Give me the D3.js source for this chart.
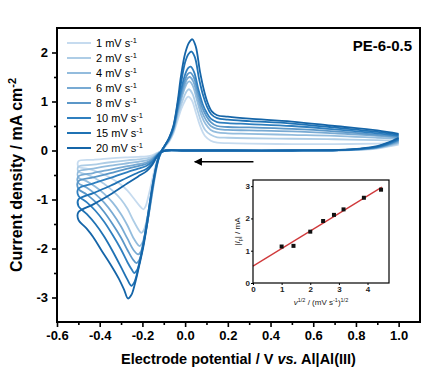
<!DOCTYPE html>
<html><head><meta charset="utf-8">
<script src="https://cdn.jsdelivr.net/npm/d3@7"></script>
<style>html,body{margin:0;padding:0;background:#fff;}svg{display:block;font-family:"Liberation Sans",Arial,sans-serif;}</style>
</head><body><svg id="c" width="439" height="374"></svg>
<script>
// ---------- data ----------
const scanRates = [1, 2, 4, 6, 8, 10, 15, 20];
const legendLabels = ["1 mV s", "2 mV s", "4 mV s", "6 mV s", "8 mV s", "10 mV s", "15 mV s", "20 mV s"];
const seriesColors = ["#c6dbef", "#aecde6", "#93bcdd", "#78aad3", "#5b97c8", "#2f7fbf", "#1f72b4", "#1565a8"];
const xTicks = [-0.6, -0.4, -0.2, 0.0, 0.2, 0.4, 0.6, 0.8, 1.0];
const yTicks = [-3, -2, -1, 0, 1, 2];
const sampleLabel = "PE-6-0.5";
const arrowSpan = [0.32, 0.045, -0.23]; // V start, V end, current

// cyclic voltammograms [potential V, current density mA cm^-2]
const cv1 = [[1.0,0.12],[0.95,0.08],[0.9,0.04],[0.82,0.015],[0.72,0.005],[0.5,0],[0.2,0],[0,0],[-0.09,0],[-0.115,-0.02],[-0.135,-0.06],[-0.155,-0.1],[-0.18,-0.12],[-0.22,-0.13],[-0.27,-0.14],[-0.35,-0.16],[-0.43,-0.19],[-0.5,-0.22],
 [-0.5,-0.33],[-0.46,-0.37],[-0.42,-0.42],[-0.38,-0.49],[-0.34,-0.58],[-0.3,-0.7],[-0.27,-0.82],[-0.24,-0.98],[-0.215,-1.12],[-0.195,-1.2],[-0.184,-1.13],[-0.174,-0.97],[-0.163,-0.77],[-0.152,-0.55],[-0.14,-0.33],[-0.127,-0.13],[-0.112,-0.01],[-0.095,0.07],[-0.075,0.18],[-0.055,0.35],[-0.035,0.62],[-0.018,0.85],[0.0,1.02],[0.008,1.08],[0.016,1.1],[0.032,1.02],[0.052,0.75],[0.072,0.48],[0.092,0.3],[0.12,0.2],[0.15,0.16],[0.2,0.15],[0.3,0.14],[0.5,0.13],[0.7,0.13],[0.9,0.14],[1.0,0.15]];
const cv2 = [[1.0,0.14],[0.95,0.09],[0.9,0.05],[0.82,0.02],[0.72,0.005],[0.5,0],[0.2,0],[0,0],[-0.09,0],[-0.115,-0.02],[-0.135,-0.07],[-0.155,-0.13],[-0.18,-0.16],[-0.22,-0.18],[-0.27,-0.2],[-0.35,-0.24],[-0.43,-0.29],[-0.5,-0.33],
 [-0.5,-0.43],[-0.46,-0.49],[-0.42,-0.57],[-0.38,-0.68],[-0.34,-0.82],[-0.3,-1.0],[-0.27,-1.19],[-0.24,-1.45],[-0.205,-1.68],[-0.193,-1.62],[-0.182,-1.46],[-0.171,-1.23],[-0.16,-0.97],[-0.148,-0.67],[-0.135,-0.38],[-0.121,-0.13],[-0.107,-0.01],[-0.095,0.08],[-0.075,0.2],[-0.055,0.38],[-0.035,0.7],[-0.018,0.94],[0.0,1.15],[0.009,1.22],[0.018,1.25],[0.034,1.16],[0.054,0.88],[0.074,0.6],[0.094,0.42],[0.12,0.32],[0.15,0.27],[0.2,0.26],[0.3,0.25],[0.5,0.24],[0.7,0.23],[0.9,0.21],[1.0,0.2]];
const cv4 = [[1.0,0.16],[0.95,0.1],[0.9,0.055],[0.82,0.02],[0.72,0.005],[0.5,0],[0.2,0],[0,0],[-0.09,0],[-0.115,-0.025],[-0.135,-0.09],[-0.155,-0.16],[-0.18,-0.2],[-0.22,-0.23],[-0.27,-0.26],[-0.35,-0.31],[-0.43,-0.37],[-0.5,-0.43],
 [-0.5,-0.55],[-0.46,-0.63],[-0.42,-0.74],[-0.38,-0.88],[-0.34,-1.06],[-0.3,-1.3],[-0.27,-1.53],[-0.24,-1.8],[-0.213,-1.95],[-0.2,-1.88],[-0.188,-1.7],[-0.176,-1.45],[-0.164,-1.15],[-0.151,-0.8],[-0.138,-0.46],[-0.123,-0.16],[-0.109,-0.02],[-0.095,0.09],[-0.075,0.21],[-0.055,0.4],[-0.035,0.76],[-0.018,1.04],[0.0,1.29],[0.01,1.38],[0.02,1.41],[0.036,1.32],[0.056,1.02],[0.076,0.72],[0.096,0.54],[0.12,0.42],[0.15,0.37],[0.2,0.35],[0.3,0.34],[0.5,0.32],[0.7,0.3],[0.9,0.26],[1.0,0.24]];
const cv6 = [[1.0,0.18],[0.95,0.11],[0.9,0.06],[0.82,0.025],[0.72,0.01],[0.5,0],[0.2,0],[0,0],[-0.09,0],[-0.115,-0.03],[-0.135,-0.1],[-0.155,-0.18],[-0.18,-0.24],[-0.22,-0.28],[-0.27,-0.32],[-0.35,-0.39],[-0.43,-0.46],[-0.5,-0.53],
 [-0.5,-0.66],[-0.46,-0.76],[-0.42,-0.89],[-0.38,-1.06],[-0.34,-1.28],[-0.3,-1.55],[-0.27,-1.8],[-0.24,-2.04],[-0.22,-2.12],[-0.207,-2.06],[-0.195,-1.88],[-0.182,-1.6],[-0.169,-1.27],[-0.156,-0.9],[-0.142,-0.52],[-0.126,-0.18],[-0.111,-0.02],[-0.095,0.1],[-0.075,0.22],[-0.055,0.42],[-0.035,0.8],[-0.018,1.1],[0.0,1.37],[0.011,1.47],[0.022,1.5],[0.038,1.41],[0.058,1.1],[0.078,0.8],[0.098,0.62],[0.12,0.5],[0.15,0.44],[0.2,0.42],[0.3,0.41],[0.5,0.39],[0.7,0.35],[0.9,0.3],[1.0,0.26]];
const cv8 = [[1.0,0.2],[0.95,0.12],[0.9,0.065],[0.82,0.03],[0.72,0.01],[0.5,0],[0.2,0],[0,0],[-0.09,0],[-0.115,-0.03],[-0.135,-0.11],[-0.155,-0.2],[-0.18,-0.27],[-0.22,-0.32],[-0.27,-0.37],[-0.35,-0.46],[-0.43,-0.55],[-0.5,-0.63],
 [-0.5,-0.78],[-0.46,-0.9],[-0.42,-1.05],[-0.38,-1.25],[-0.34,-1.5],[-0.3,-1.78],[-0.27,-2.03],[-0.245,-2.22],[-0.228,-2.3],[-0.215,-2.24],[-0.202,-2.05],[-0.188,-1.75],[-0.174,-1.38],[-0.16,-0.98],[-0.145,-0.57],[-0.128,-0.2],[-0.112,-0.03],[-0.095,0.1],[-0.075,0.23],[-0.055,0.44],[-0.035,0.84],[-0.018,1.17],[0.0,1.45],[0.012,1.56],[0.024,1.59],[0.04,1.5],[0.06,1.18],[0.08,0.88],[0.1,0.7],[0.12,0.58],[0.15,0.5],[0.2,0.48],[0.3,0.47],[0.5,0.44],[0.7,0.39],[0.9,0.32],[1.0,0.28]];
const cv10 = [[1.0,0.22],[0.95,0.13],[0.9,0.07],[0.82,0.03],[0.72,0.01],[0.5,0],[0.2,0],[0,0],[-0.09,0],[-0.115,-0.035],[-0.135,-0.12],[-0.155,-0.23],[-0.18,-0.31],[-0.22,-0.37],[-0.27,-0.44],[-0.35,-0.56],[-0.43,-0.67],[-0.5,-0.78],
 [-0.5,-0.92],[-0.46,-1.06],[-0.42,-1.23],[-0.38,-1.45],[-0.34,-1.72],[-0.3,-2.02],[-0.27,-2.28],[-0.25,-2.43],[-0.238,-2.5],[-0.225,-2.44],[-0.21,-2.22],[-0.195,-1.9],[-0.18,-1.5],[-0.165,-1.05],[-0.148,-0.6],[-0.13,-0.22],[-0.113,-0.03],[-0.095,0.1],[-0.075,0.24],[-0.055,0.46],[-0.035,0.88],[-0.018,1.25],[0.0,1.55],[0.014,1.68],[0.026,1.71],[0.042,1.6],[0.062,1.25],[0.082,0.95],[0.1,0.78],[0.12,0.65],[0.15,0.58],[0.2,0.56],[0.3,0.54],[0.5,0.5],[0.7,0.43],[0.9,0.35],[1.0,0.3]];
const cv15 = [[1.0,0.24],[0.95,0.15],[0.9,0.08],[0.82,0.035],[0.72,0.01],[0.5,0],[0.2,0],[0,0],[-0.09,0],[-0.115,-0.04],[-0.135,-0.14],[-0.155,-0.27],[-0.18,-0.37],[-0.22,-0.45],[-0.27,-0.55],[-0.35,-0.72],[-0.43,-0.87],[-0.5,-1.0],
 [-0.5,-1.13],[-0.46,-1.3],[-0.42,-1.5],[-0.38,-1.75],[-0.34,-2.05],[-0.3,-2.38],[-0.272,-2.62],[-0.252,-2.76],[-0.237,-2.68],[-0.222,-2.45],[-0.205,-2.1],[-0.188,-1.7],[-0.17,-1.2],[-0.152,-0.7],[-0.133,-0.28],[-0.115,-0.04],[-0.095,0.1],[-0.075,0.25],[-0.055,0.48],[-0.035,0.95],[-0.018,1.4],[0.0,1.8],[0.016,1.97],[0.03,2.02],[0.046,1.9],[0.066,1.45],[0.086,1.1],[0.102,0.9],[0.122,0.74],[0.15,0.66],[0.2,0.63],[0.3,0.6],[0.5,0.55],[0.7,0.47],[0.9,0.38],[1.0,0.32]];
const cv20 = [[1.0,0.26],[0.95,0.16],[0.9,0.09],[0.82,0.04],[0.72,0.01],[0.5,0],[0.2,0],[0,0],[-0.09,0],[-0.115,-0.04],[-0.135,-0.15],[-0.155,-0.3],[-0.18,-0.42],[-0.22,-0.53],[-0.27,-0.67],[-0.35,-0.9],[-0.43,-1.1],[-0.5,-1.26],
 [-0.5,-1.41],[-0.46,-1.6],[-0.43,-1.77],[-0.39,-2.05],[-0.35,-2.32],[-0.31,-2.62],[-0.285,-2.85],[-0.268,-3.02],[-0.252,-2.95],[-0.235,-2.72],[-0.215,-2.35],[-0.195,-1.95],[-0.175,-1.42],[-0.155,-0.82],[-0.135,-0.35],[-0.115,-0.05],[-0.095,0.1],[-0.075,0.26],[-0.055,0.5],[-0.035,1.0],[-0.02,1.5],[0.0,1.98],[0.018,2.2],[0.034,2.27],[0.05,2.12],[0.07,1.6],[0.09,1.2],[0.105,0.98],[0.125,0.8],[0.15,0.72],[0.2,0.69],[0.3,0.65],[0.5,0.59],[0.7,0.5],[0.9,0.41],[1.0,0.34]];
const cvCurves = [cv1, cv2, cv4, cv6, cv8, cv10, cv15, cv20];

// inset: anodic peak current vs sqrt(scan rate)
const insetX = [1.0, 1.414, 2.0, 2.449, 2.828, 3.162, 3.873, 4.472];
const insetY = [1.13, 1.15, 1.59, 1.92, 2.11, 2.28, 2.64, 2.89];
const insetXTicks = [0, 1, 2, 3, 4];
const insetYTicks = [0, 1, 2, 3];
const fitRange = [0, 4.5];

// ---------- drawing ----------
const svg = d3.select("#c");
const L = 57, R = 420, T = 28, B = 322;
const x = d3.scaleLinear().domain([-0.6, 1.1]).range([L, R]);
const y = d3.scaleLinear().domain([-3.5, 2.5]).range([B, T]);

const line = d3.line().x(d => x(d[0])).y(d => y(d[1])).curve(d3.curveCatmullRom.alpha(0.5));
const plot = svg.append("g");
cvCurves.forEach((c, i) => {
  plot.append("path").attr("d", line(c)).attr("fill", "none")
    .attr("stroke", seriesColors[i]).attr("stroke-width", 1.8).attr("stroke-linejoin", "round");
});

// axes
const xAxis = d3.axisBottom(x).tickValues(xTicks).tickFormat(d => d.toFixed(1)).tickSize(5).tickPadding(4);
const gx = svg.append("g").attr("transform", `translate(0,${B})`).call(xAxis);
const xMinor = d3.axisBottom(x).tickValues(d3.range(-0.5, 1.05, 0.2)).tickFormat("").tickSize(3);
const gxm = svg.append("g").attr("transform", `translate(0,${B})`).call(xMinor);
const yAxis = d3.axisLeft(y).tickValues(yTicks).tickFormat(d => String(d)).tickSize(5).tickPadding(4);
const gy = svg.append("g").attr("transform", `translate(${L},0)`).call(yAxis);
const yMinor = d3.axisLeft(y).tickValues([-2.5, -1.5, -0.5, 0.5, 1.5]).tickFormat("").tickSize(3);
const gym = svg.append("g").attr("transform", `translate(${L},0)`).call(yMinor);
[gx, gxm, gy, gym].forEach(g => {
  g.select(".domain").remove();
  g.selectAll("line").attr("stroke", "#000").attr("stroke-width", 1.6);
  g.selectAll("text").attr("font-size", 13).attr("font-weight", "bold").attr("fill", "#000")
    .attr("font-family", '"Liberation Sans",Arial,sans-serif');
});
svg.append("rect").attr("x", L).attr("y", T).attr("width", R - L).attr("height", B - T)
  .attr("fill", "none").attr("stroke", "#000").attr("stroke-width", 2);

// axis titles
const yt = svg.append("text").attr("transform", `translate(22,${(T + B) / 2}) rotate(-90)`)
  .attr("text-anchor", "middle").attr("font-size", 16).attr("font-weight", "bold");
yt.append("tspan").text("Current density / mA cm");
yt.append("tspan").attr("dy", -6).attr("font-size", 11).text("-2");
const xt = svg.append("text").attr("x", (L + R) / 2).attr("y", 364)
  .attr("text-anchor", "middle").attr("font-size", 14.5).attr("font-weight", "bold");
xt.append("tspan").text("Electrode potential / V ");
xt.append("tspan").attr("font-style", "italic").text("vs.");
xt.append("tspan").text(" Al|Al(III)");

// sample label
svg.append("text").attr("x", 412).attr("y", 51).attr("text-anchor", "end")
  .attr("font-size", 15).attr("font-weight", "bold").text(sampleLabel);

// legend
const lg = svg.append("g");
scanRates.forEach((r, i) => {
  const yy = 43 + i * 15;
  lg.append("line").attr("x1", 67).attr("x2", 91).attr("y1", yy).attr("y2", yy)
    .attr("stroke", seriesColors[i]).attr("stroke-width", 2);
  const t = lg.append("text").attr("x", 96).attr("y", yy + 4).attr("font-size", 11);
  t.append("tspan").text(legendLabels[i]);
  t.append("tspan").attr("dy", -4).attr("font-size", 7.5).text("-1");
});

// arrow
svg.append("defs").append("marker").attr("id", "ah").attr("viewBox", "0 0 10 10")
  .attr("refX", 9).attr("refY", 5).attr("markerWidth", 8).attr("markerHeight", 8)
  .attr("markerUnits", "userSpaceOnUse").attr("orient", "auto")
  .append("path").attr("d", "M0,0 L10,5 L0,10 z").attr("fill", "#000");
svg.append("line").attr("x1", x(arrowSpan[0])).attr("x2", x(arrowSpan[1]))
  .attr("y1", y(arrowSpan[2])).attr("y2", y(arrowSpan[2]))
  .attr("stroke", "#000").attr("stroke-width", 1.5).attr("marker-end", "url(#ah)");

// inset
const iL = 253, iR = 389, iT = 180, iB = 283;
const ix = d3.scaleLinear().domain([0, 4.75]).range([iL, iR]);
const iy = d3.scaleLinear().domain([0, 3.19]).range([iB, iT]);
svg.append("rect").attr("x", iL).attr("y", iT).attr("width", iR - iL).attr("height", iB - iT)
  .attr("fill", "#fff").attr("stroke", "none");
const mx = d3.mean(insetX), my = d3.mean(insetY);
const slope = d3.sum(insetX.map((v, i) => (v - mx) * (insetY[i] - my))) / d3.sum(insetX.map(v => (v - mx) ** 2));
const icpt = my - slope * mx;
svg.append("line").attr("x1", ix(fitRange[0])).attr("y1", iy(icpt + slope * fitRange[0]))
  .attr("x2", ix(fitRange[1])).attr("y2", iy(icpt + slope * fitRange[1]))
  .attr("stroke", "#d0393b").attr("stroke-width", 1.3);
svg.append("g").selectAll("rect").data(insetX).join("rect")
  .attr("x", (d) => ix(d) - 2).attr("y", (d, i) => iy(insetY[i]) - 2)
  .attr("width", 4).attr("height", 4).attr("fill", "#111");
const gix = svg.append("g").attr("transform", `translate(0,${iB})`)
  .call(d3.axisBottom(ix).tickValues(insetXTicks).tickSize(2).tickPadding(1).tickFormat(d3.format("d")));
const giy = svg.append("g").attr("transform", `translate(${iL},0)`)
  .call(d3.axisLeft(iy).tickValues(insetYTicks).tickSize(2).tickPadding(1).tickFormat(d3.format("d")));
[gix, giy].forEach(g => {
  g.select(".domain").remove();
  g.selectAll("line").attr("stroke", "#000");
  g.selectAll("text").attr("font-size", 8).attr("font-weight", "bold").attr("fill", "#222")
    .attr("font-family", '"Liberation Sans",Arial,sans-serif');
});
svg.append("rect").attr("x", iL).attr("y", iT).attr("width", iR - iL).attr("height", iB - iT)
  .attr("fill", "none").attr("stroke", "#000").attr("stroke-width", 1.2);
const ixt = svg.append("text").attr("x", (iL + iR) / 2).attr("y", 305)
  .attr("text-anchor", "middle").attr("font-size", 8).attr("fill", "#222");
ixt.append("tspan").attr("font-style", "italic").text("v");
ixt.append("tspan").attr("dy", -3).attr("font-size", 5.5).text("1/2");
ixt.append("tspan").attr("dy", 3).text(" / (mV s");
ixt.append("tspan").attr("dy", -3).attr("font-size", 5.5).text("-1");
ixt.append("tspan").attr("dy", 3).text(")");
ixt.append("tspan").attr("dy", -3).attr("font-size", 5.5).text("1/2");
const iyt = svg.append("text").attr("transform", `translate(240,${(iT + iB) / 2}) rotate(-90)`)
  .attr("text-anchor", "middle").attr("font-size", 8).attr("fill", "#222");
iyt.append("tspan").text("|");
iyt.append("tspan").attr("font-style", "italic").text("I");
iyt.append("tspan").attr("dy", 2).attr("font-size", 5.5).text("p");
iyt.append("tspan").attr("dy", -2).text("| / mA");
</script></body></html>
